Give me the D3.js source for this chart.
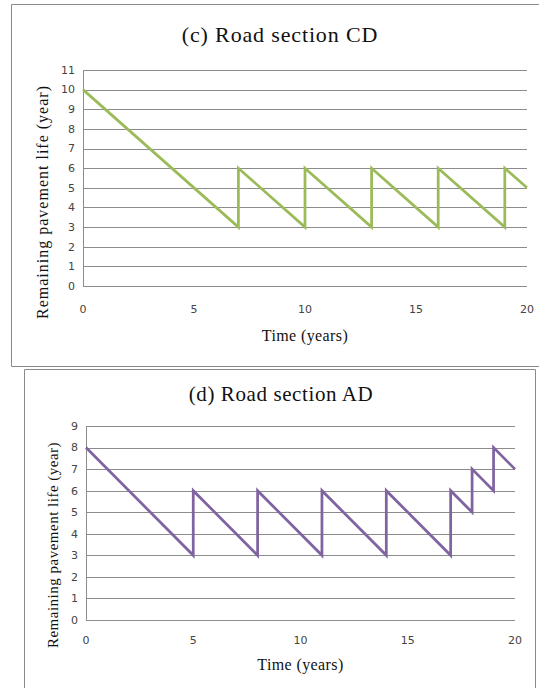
<!DOCTYPE html>
<html><head><meta charset="utf-8">
<script src="https://cdn.jsdelivr.net/npm/d3@7"></script>
<style>body{margin:0;background:#fff}svg{display:block}</style>
</head><body>
<svg id="c" width="539" height="688"></svg>
<script>
// Chart (c) Road section CD
const cdTime = [0, 7, 7, 10, 10, 13, 13, 16, 16, 19, 19, 20];
const cdLife = [10, 3, 6, 3, 6, 3, 6, 3, 6, 3, 6, 5];
const cdYTicks = [0,1,2,3,4,5,6,7,8,9,10,11];
// Chart (d) Road section AD
const adTime = [0, 5, 5, 8, 8, 11, 11, 14, 14, 17, 17, 18, 18, 19, 19, 20];
const adLife = [8, 3, 6, 3, 6, 3, 6, 3, 6, 3, 6, 5, 7, 6, 8, 7];
const adYTicks = [0,1,2,3,4,5,6,7,8,9];
const xTicks = [0, 5, 10, 15, 20];

const svg = d3.select("#c");

// frames
svg.append("path").attr("d","M539,4.5 H11.5 V366.5 H539").attr("fill","none").attr("stroke","#8a8a8a").attr("stroke-width",1);
svg.append("path").attr("d","M24.5,688 V369.5 H535.5 V688").attr("fill","none").attr("stroke","#8a8a8a").attr("stroke-width",1);

function chart(cfg){
  const g = svg.append("g");
  const x = d3.scaleLinear().domain([0,20]).range([cfg.left, cfg.right]);
  const y = d3.scaleLinear().domain([0, cfg.ymax]).range([cfg.bottom, cfg.top]);
  // gridlines
  g.append("g").selectAll("line").data(cfg.yTicks.filter(d=>d>0)).join("line")
    .attr("x1", cfg.left).attr("x2", cfg.right)
    .attr("y1", d=>Math.round(y(d))+0.5).attr("y2", d=>Math.round(y(d))+0.5)
    .attr("stroke","#8c8c8c").attr("stroke-width",1);
  // axes lines
  g.append("line").attr("x1",cfg.left).attr("x2",cfg.right)
    .attr("y1",Math.round(y(0))+0.5).attr("y2",Math.round(y(0))+0.5).attr("stroke","#8c8c8c");
  g.append("line").attr("x1",cfg.left+0.5).attr("x2",cfg.left+0.5)
    .attr("y1",Math.round(y(cfg.ymax))).attr("y2",Math.round(y(0))+1).attr("stroke","#8c8c8c");
  // y tick labels
  g.append("g").selectAll("text").data(cfg.yTicks).join("text")
    .attr("x", cfg.left-8).attr("y", d=>y(d)).attr("dy","0.35em")
    .attr("text-anchor","end").attr("font-family","DejaVu Sans").attr("font-size",11).attr("fill","#444")
    .text(d=>d);
  // x tick labels
  g.append("g").selectAll("text").data(xTicks).join("text")
    .attr("x", d=>x(d)).attr("y", cfg.xLabelY).attr("dy","0.35em")
    .attr("text-anchor","middle").attr("font-family","DejaVu Sans").attr("font-size",11).attr("fill","#444")
    .text(d=>d);
  // titles
  g.append("text").attr("x", cfg.titleX).attr("y", cfg.titleY).attr("dy","0.35em")
    .attr("text-anchor","middle").attr("font-family","Liberation Serif").attr("font-size",cfg.titleSize)
    .attr("letter-spacing",cfg.titleLS).attr("fill","#111")
    .text(cfg.title);
  g.append("text").attr("x", (cfg.left+cfg.right)/2).attr("y", cfg.xTitleY).attr("dy","0.35em")
    .attr("text-anchor","middle").attr("font-family","Liberation Serif").attr("font-size",16)
    .attr("letter-spacing",0.4).attr("fill","#111")
    .text("Time (years)");
  g.append("text").attr("transform", `translate(${cfg.yTitleX},${cfg.yTitleY}) rotate(-90)`).attr("dy","0.35em")
    .attr("text-anchor","middle").attr("font-family","Liberation Serif").attr("font-size",cfg.yTitleSize)
    .attr("letter-spacing",cfg.yTitleLS).attr("fill","#111")
    .text("Remaining pavement life (year)");
  // data line
  const pts = cfg.xs.map((t,i)=>[t, cfg.ys[i]]);
  g.append("path").datum(pts)
    .attr("d", d3.line().x(d=>x(d[0])).y(d=>y(d[1])))
    .attr("fill","none").attr("stroke", cfg.color).attr("stroke-width",2.75).attr("stroke-linejoin","miter");
}

chart({left:83, right:527, top:70, bottom:286, ymax:11, yTicks:cdYTicks, xs:cdTime, ys:cdLife,
  color:"#9BBB59", title:"(c) Road section CD", titleX:280, titleY:34, titleSize:22, titleLS:0.85,
  xLabelY:309, xTitleY:335, yTitleX:42, yTitleY:202, yTitleSize:16, yTitleLS:1});
chart({left:86, right:515, top:426, bottom:620, ymax:9, yTicks:adYTicks, xs:adTime, ys:adLife,
  color:"#8064A2", title:"(d) Road section AD", titleX:281, titleY:394, titleSize:21, titleLS:0.6,
  xLabelY:640, xTitleY:664, yTitleX:53, yTitleY:545, yTitleSize:15, yTitleLS:0.5});
</script>
</body></html>
